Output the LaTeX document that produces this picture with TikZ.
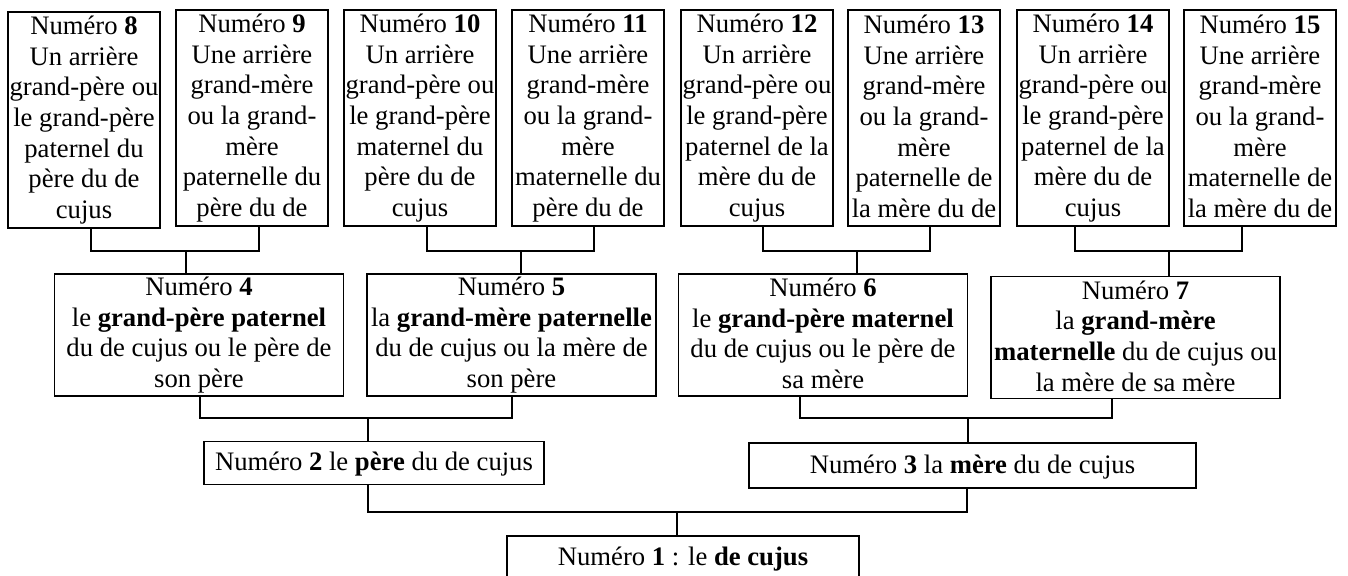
\documentclass[tikz,border=0pt]{standalone}
\usepackage{fontspec}
\setmainfont{Liberation Serif}
\newcommand{\treefont}{\fontsize{12pt}{13.8pt}\selectfont}

\tikzset{
    % boxes
    ancestor/.style={
        draw,
        line width=0.8pt,
        align=center,
        inner sep=0pt,
        font=\treefont,
        execute at begin node=\rule{0pt}{11pt},
        execute at end node=\rule[-1.5pt]{0pt}{1pt},
        minimum width=152*0.45pt,
        minimum height=216*0.45pt
    },
    grandparent/.style={
        ancestor,
        minimum width=289*0.45pt,
        minimum height=122*0.45pt
    },
    parent/.style={
        ancestor,
        execute at begin node=\strut,
        execute at end node=\strut,
        minimum height=43*0.45pt
    },
    % connectors
    branch/.style={
        line width=0.8pt
    }
}

\begin{document}
\begin{tikzpicture}[x=0.45pt, y=-0.45pt]

    \clip (0, 0) rectangle (1348, 576);

    % great-grandparents
    \node [ancestor] (ancestor-8) at (84, 120)
        {Numéro \textbf{8}\\Un arrière\\grand-père ou\\le grand-père\\paternel du\\père du de\\cujus};
    \node [ancestor] (ancestor-9) at (252, 118)
        {Numéro \textbf{9}\\Une arrière\\grand-mère\\ou la grand-\\mère\\paternelle du\\père du de};
    \node [ancestor] (ancestor-10) at (420, 118)
        {Numéro \textbf{10}\\Un arrière\\grand-père ou\\le grand-père\\maternel du\\père du de\\cujus};
    \node [ancestor] (ancestor-11) at (588, 118)
        {Numéro \textbf{11}\\Une arrière\\grand-mère\\ou la grand-\\mère\\maternelle du\\père du de};
    \node [ancestor] (ancestor-12) at (757, 118)
        {Numéro \textbf{12}\\Un arrière\\grand-père ou\\le grand-père\\paternel de la\\mère du de\\cujus};
    \node [ancestor] (ancestor-13) at (924, 118)
        {Numéro \textbf{13}\\Une arrière\\grand-mère\\ou la grand-\\mère\\paternelle de\\la mère du de};
    \node [ancestor] (ancestor-14) at (1093, 118)
        {Numéro \textbf{14}\\Un arrière\\grand-père ou\\le grand-père\\paternel de la\\mère du de\\cujus};
    \node [ancestor] (ancestor-15) at (1260, 118)
        {Numéro \textbf{15}\\Une arrière\\grand-mère\\ou la grand-\\mère\\maternelle de\\la mère du de};
    \foreach \n/\s in {8/91, 9/259, 10/427, 11/594, 12/763, 13/930, 14/1075, 15/1242}
        \coordinate (stub-\n) at (\s, 0);

    % grandparents
    \node [grandparent] (grandparent-4) at (199, 335)
        {Numéro \textbf{4}\\le \textbf{grand-père paternel}\\du de cujus ou le père de\\son père};
    \node [grandparent] (grandparent-5) at (511.5, 335)
        {Numéro \textbf{5}\\la \textbf{grand-mère paternelle}\\du de cujus ou la mère de\\son père};
    \node [grandparent] (grandparent-6) at (823, 335)
        {Numéro \textbf{6}\\le \textbf{grand-père maternel}\\du de cujus ou le père de\\sa mère};
    \node [grandparent] (grandparent-7) at (1135.5, 337.5)
        {Numéro \textbf{7}\\la \textbf{grand-mère}\\\textbf{maternelle} du de cujus ou\\la mère de sa mère};
    \foreach \n/\s in {4/200, 5/512, 6/800, 7/1112}
        \coordinate (stub-\n) at (\s, 0);

    % parents
    \node [parent, minimum width=340*0.45pt] (parent-2) at (374, 463)
        {Numéro \textbf{2} le \textbf{père} du de cujus};
    \node [parent, minimum width=447*0.45pt, minimum height=45*0.45pt] (parent-3) at (972.5, 465.5)
        {Numéro \textbf{3} la \textbf{mère} du de cujus};
    \coordinate (stub-2) at (368, 0);
    \coordinate (stub-3) at (967, 0);

    % de cujus
    \node [parent, minimum width=352*0.45pt] (decujus) at (683, 557.5)
        {Numéro \textbf{1} : le \textbf{de cujus}};

    % draw branches
    \foreach \a/\b/\p/\j in {8/9/4/186, 10/11/5/521, 12/13/6/857, 14/15/7/1169} {
        \coordinate (join-\p) at (\j, 251);
        \draw [branch] (ancestor-\a.south -| stub-\a) |- (join-\p) -| (ancestor-\b.south -| stub-\b);
        \draw [branch] (join-\p) -- (grandparent-\p.north -| join-\p);
    }

    \foreach \a/\b/\p/\j in {4/5/2/368, 6/7/3/968} {
        \coordinate (join-\p) at (\j, 418);
        \draw [branch] (grandparent-\a.south -| stub-\a) |- (join-\p) -| (grandparent-\b.south -| stub-\b);
        \draw [branch] (join-\p) -- (parent-\p.north -| join-\p);
    }

    \coordinate (join-1) at (677, 512);
    \draw [branch] (parent-2.south -| stub-2) |- (join-1) -| (parent-3.south -| stub-3);
    \draw [branch] (join-1) -- (decujus.north -| join-1);

\end{tikzpicture}
\end{document}
